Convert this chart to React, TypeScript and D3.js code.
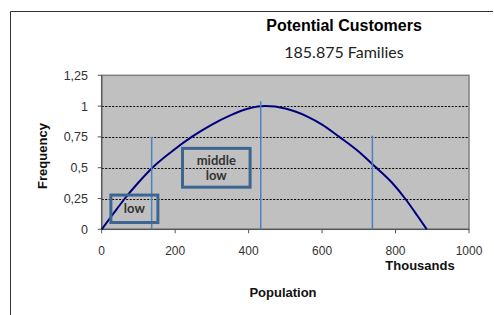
import React from "react";
import * as d3 from "d3";

const curveX = [0, 30, 63, 100, 138, 190, 245, 300, 350, 400, 445, 500, 560, 600, 647, 700, 744, 790, 826, 860, 885];
const curveY = [0, 0.12, 0.25, 0.38, 0.5, 0.63, 0.75, 0.85, 0.925, 0.98, 1.0, 0.98, 0.915, 0.85, 0.75, 0.63, 0.51, 0.38, 0.25, 0.108, 0];
const markerX = [136, 433, 737];
const markerTop = [0.75, 1.04, 0.76];
const yTicks = [0, 0.25, 0.5, 0.75, 1, 1.25];
const yTickLabels = ["0", "0,25", "0,5", "0,75", "1", "1,25"];
const xTicks = [0, 200, 400, 600, 800, 1000];
const gridValues = [0.25, 0.5, 0.75, 1];
const boxLabels = [["low"], ["middle", "low"]];
const boxX0 = [25, 220];
const boxX1 = [153, 404];
const boxY0 = [0.055, 0.342];
const boxY1 = [0.278, 0.657];

export default function App() {
  const W = 494, H = 315;
  const x = d3.scaleLinear().domain([0, 1000]).range([101.7, 469]);
  const y = d3.scaleLinear().domain([0, 1.25]).range([229.3, 75.3]);
  const line = d3
    .line<number>()
    .x((_, i) => x(curveX[i]))
    .y((d) => y(d))
    .curve(d3.curveMonotoneX);
  const sans = "'Liberation Sans', Arial, sans-serif";
  const cal = "Lato, 'Open Sans', sans-serif";
  return (
    <svg width={W} height={H} style={{ position: "absolute", left: 0, top: 0, background: "#fff" }}>
      <line x1={10.5} y1={11.5} x2={493} y2={11.5} stroke="#333" strokeWidth={1} />
      <line x1={10.5} y1={11.5} x2={10.5} y2={315} stroke="#333" strokeWidth={1} />
      <text x={344} y={31} textAnchor="middle" fontFamily={sans} fontWeight="bold" fontSize={16} fill="#000">
        Potential Customers
      </text>
      <text x={344} y={58} textAnchor="middle" fontFamily={cal} fontSize={16} fill="#222">
        185.875 Families
      </text>
      <rect x={x(0)} y={y(1.25)} width={x(1000) - x(0)} height={y(0) - y(1.25)} fill="#c0c0c0" stroke="#808080" strokeWidth={1.5} />
      {gridValues.map((g) => (
        <line key={g} x1={x(0)} x2={x(1000)} y1={Math.round(y(g)) + 0.5} y2={Math.round(y(g)) + 0.5} stroke="#000" strokeWidth={1} strokeDasharray="2,1.5" />
      ))}
      <line x1={x(0)} x2={x(1000)} y1={y(0)} y2={y(0)} stroke="#555" strokeWidth={1.2} />
      <line x1={x(0)} x2={x(0)} y1={y(0)} y2={y(1.25)} stroke="#555" strokeWidth={1.2} />
      {yTicks.map((t, i) => (
        <g key={t}>
          <line x1={x(0) - 4} x2={x(0)} y1={y(t)} y2={y(t)} stroke="#555" />
          <text x={88} y={y(t) + 4.5} textAnchor="end" fontFamily={sans} fontSize={12.5} fill="#333">
            {yTickLabels[i]}
          </text>
        </g>
      ))}
      {xTicks.map((t) => (
        <g key={t}>
          <line x1={x(t)} x2={x(t)} y1={y(0)} y2={y(0) + 4} stroke="#555" />
          <text x={x(t)} y={255} textAnchor="middle" fontFamily={sans} fontSize={12} fill="#333">
            {t}
          </text>
        </g>
      ))}
      <text x={420} y={270} textAnchor="middle" fontFamily={sans} fontWeight="bold" fontSize={13} fill="#111">
        Thousands
      </text>
      <text x={283} y={297} textAnchor="middle" fontFamily={sans} fontWeight="bold" fontSize={13} fill="#111">
        Population
      </text>
      <text transform={`translate(47,156) rotate(-90)`} textAnchor="middle" fontFamily={sans} fontWeight="bold" fontSize={13} fill="#111">
        Frequency
      </text>
      <path d={line(curveY) || ""} fill="none" stroke="#000080" strokeWidth={2} />
      {markerX.map((m, i) => (
        <line key={m} x1={x(m)} x2={x(m)} y1={y(0)} y2={y(markerTop[i])} stroke="#4f81bd" strokeWidth={1.5} />
      ))}
      {boxLabels.map((lab, i) => {
        const bx0 = x(boxX0[i]), bx1 = x(boxX1[i]);
        const by0 = y(boxY1[i]), by1 = y(boxY0[i]);
        const cx = (bx0 + bx1) / 2, cy = (by0 + by1) / 2;
        const lh = 15;
        return (
          <g key={i}>
            <rect x={bx0} y={by0} width={bx1 - bx0} height={by1 - by0} fill="none" stroke="#3c6591" strokeWidth={3} />
            {lab.map((t, j) => (
              <text key={j} x={cx} y={cy + 4.5 + (j - (lab.length - 1) / 2) * lh} textAnchor="middle" fontFamily={cal} fontWeight="bold" fontSize={13} fill="#333">
                {t}
              </text>
            ))}
          </g>
        );
      })}
    </svg>
  );
}
